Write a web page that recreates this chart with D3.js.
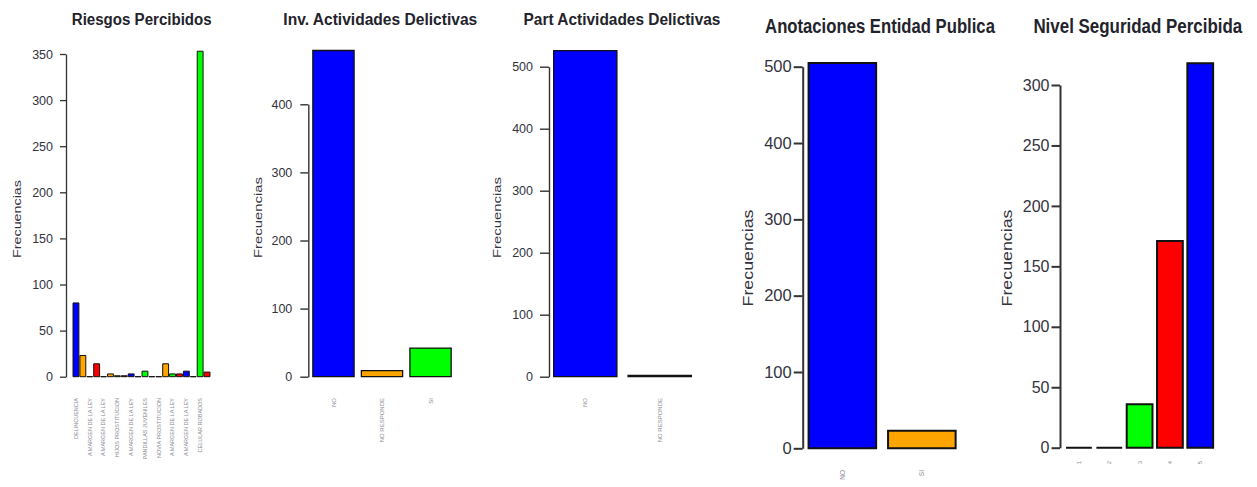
<!DOCTYPE html>
<html>
<head>
<meta charset="utf-8">
<script src="https://cdn.jsdelivr.net/npm/d3@7"></script>
<style>
  body { margin: 0; background: #fff; }
  svg { display: block; }
</style>
</head>
<body>
<svg id="viz"></svg>
<script>
const width = 1257, height = 487;

// colores que R recicla en cada barplot
const palette = ["#0000ff", "#ffa500", "#00ff00", "#ff0000"];

// Riesgos Percibidos (20 categorias, R solo pinta una etiqueta de cada dos)
const riesgosCats = [
  "DELINCUENCIA", "ALCOHOLISMO",
  "A MARGEN DE LA LEY", "DROGADICCION",
  "A MARGEN DE LA LEY ", "EMBARAZO",
  "HIJOS PROSTITUCION", "MALTRATO",
  "A MARGEN DE LA LEY  ", "VIOLENCIA",
  "PANDILLAS JUVENILES", "RECLUTAMIENTO",
  "NOVIA PROSTITUCION", "ROBO",
  "A MARGEN DE LA LEY   ", "SICARIATO",
  "A MARGEN DE LA LEY    ", "VANDALISMO",
  "CELULAR ROBADOS", "OTROS"
];
const riesgosVals = [80, 23, 0, 14, 0, 3, 1, 1, 3, 0, 6, 0, 0, 14, 3, 3, 6, 0, 353, 5];
const riesgosTicks = [0, 50, 100, 150, 200, 250, 300, 350];

// Inv. Actividades Delictivas
const invCats = ["NO", "NO RESPONDE", "SI"];
const invVals = [479, 9, 42];
const invTicks = [0, 100, 200, 300, 400];

// Part Actividades Delictivas
const partCats = ["NO", "NO RESPONDE"];
const partVals = [526, 2];
const partTicks = [0, 100, 200, 300, 400, 500];

// Anotaciones Entidad Publica
const anotCats = ["NO", "SI"];
const anotVals = [505, 23];
const anotTicks = [0, 100, 200, 300, 400, 500];

// Nivel Seguridad Percibida
const nivelCats = ["1", "2", "3", "4", "5"];
const nivelVals = [0, 0, 36, 171, 318];
const nivelTicks = [0, 50, 100, 150, 200, 250, 300];

const panels = [
  { title: "Riesgos Percibidos", cats: riesgosCats, vals: riesgosVals, ticks: riesgosTicks,
    axisX: 66, y0: 376.7, yTop: 54, bars: [72.5, 210.5], labelEvery: 2,
    titleX: 141.7, titleY: 25, titleSize: 17, titleLen: 140,
    ylabX: 20.7, ylabY: 219, ylabSize: 11.5, ylabLen: 78,
    tickSize: 6, tickPad: 7, tickFont: 12.5, xlabY: 398, xlabFont: 5.5, lw: 1.3, bw: 1 },
  { title: "Inv. Actividades Delictivas", cats: invCats, vals: invVals, ticks: invTicks,
    axisX: 308.3, y0: 376.7, yTop: 104.3, bars: [309.2, 454.8], labelEvery: 1,
    titleX: 380.3, titleY: 25, titleSize: 17, titleLen: 194,
    ylabX: 261.7, ylabY: 217.5, ylabSize: 11.5, ylabLen: 81,
    tickSize: 8, tickPad: 8, tickFont: 12.5, xlabY: 398, xlabFont: 6, lw: 1.4, bw: 1.3 },
  { title: "Part Actividades Delictivas", cats: partCats, vals: partVals, ticks: partTicks,
    axisX: 549, y0: 376.7, yTop: 66.7, bars: [548.1, 696.9], labelEvery: 1,
    titleX: 622, titleY: 25, titleSize: 17, titleLen: 197,
    ylabX: 500.7, ylabY: 217.5, ylabSize: 11.5, ylabLen: 81,
    tickSize: 9, tickPad: 7, tickFont: 12.5, xlabY: 398, xlabFont: 6, lw: 1.4, bw: 1.3 },
  { title: "Anotaciones Entidad Publica", cats: anotCats, vals: anotVals, ticks: anotTicks,
    axisX: 802.7, y0: 448.3, yTop: 66.7, bars: [802.6, 961.6], labelEvery: 1,
    titleX: 880, titleY: 33.3, titleSize: 21, titleLen: 230,
    ylabX: 752.7, ylabY: 258, ylabSize: 14, ylabLen: 97,
    tickSize: 9, tickPad: 2, tickFont: 16.5, xlabY: 470, xlabFont: 6.5, lw: 2, bw: 2 },
  { title: "Nivel Seguridad Percibida", cats: nivelCats, vals: nivelVals, ticks: nivelTicks,
    axisX: 1060, y0: 447.7, yTop: 85, bars: [1063.8, 1215.4], labelEvery: 1,
    titleX: 1137.8, titleY: 33.3, titleSize: 21, titleLen: 209,
    ylabX: 1011.7, ylabY: 258, ylabSize: 14, ylabLen: 97,
    tickSize: 8.5, tickPad: 2, tickFont: 16, xlabY: 461, xlabFont: 6, lw: 2, bw: 2 }
];

const svg = d3.select("#viz")
  .attr("width", width)
  .attr("height", height)
  .style("font-family", "Liberation Sans, Arial, sans-serif");

svg.append("rect").attr("width", width).attr("height", height).attr("fill", "#fff");

// texto estrechado a un ancho dado (la imagen original esta comprimida en x)
function squeezed(parent, str, len, size, bold, fill, rotate) {
  const holder = parent.append("g");
  const t = holder.append("text")
    .attr("text-anchor", "middle")
    .attr("fill", fill)
    .style("font-size", size + "px")
    .style("font-weight", bold ? "bold" : "normal")
    .text(str);
  const natural = t.node().getComputedTextLength();
  const sx = natural > 0 ? len / natural : 1;
  t.attr("transform", (rotate ? "rotate(-90) " : "") + "scale(" + sx + ",1)");
  return holder;
}

panels.forEach(function(p) {
  const g = svg.append("g");

  const y = d3.scaleLinear()
    .domain([0, d3.max(p.ticks)])
    .range([p.y0, p.yTop]);

  const x = d3.scaleBand()
    .domain(p.cats)
    .range(p.bars)
    .paddingInner(0.15)
    .paddingOuter(0.075);

  // barras como paths para que las de valor 0 se vean como linea
  g.selectAll("path.bar")
    .data(p.vals)
    .enter().append("path")
    .attr("class", "bar")
    .attr("d", function(d, i) {
      const x0 = x(p.cats[i]), w = x.bandwidth();
      const yb = y(0), yt = y(d);
      return "M" + x0 + "," + yb + "H" + (x0 + w) + "V" + yt + "H" + x0 + "Z";
    })
    .attr("fill", function(d, i) { return palette[i % palette.length]; })
    .attr("stroke", "#111")
    .attr("stroke-width", p.bw);

  // eje y estilo R
  const axis = g.append("g")
    .attr("transform", "translate(" + p.axisX + ",0)")
    .call(d3.axisLeft(y).tickValues(p.ticks).tickSize(p.tickSize).tickSizeOuter(0).tickPadding(p.tickPad));

  axis.select(".domain").attr("stroke", "#333").attr("stroke-width", p.lw);
  axis.selectAll(".tick line").attr("stroke", "#333").attr("stroke-width", p.lw);
  axis.selectAll(".tick text")
    .attr("fill", "#33333d")
    .style("font-size", p.tickFont + "px")
    .style("font-family", "Liberation Sans, Arial, sans-serif");

  // etiquetas x verticales (las = 2)
  g.selectAll("text.xlab")
    .data(p.cats.filter(function(c, i) { return i % p.labelEvery === 0; }))
    .enter().append("text")
    .attr("class", "xlab")
    .attr("transform", function(c) {
      return "translate(" + (x(c) + x.bandwidth() / 2) + "," + p.xlabY + ") rotate(-90)";
    })
    .attr("text-anchor", "end")
    .attr("dy", "0.35em")
    .attr("fill", "#8a8a95")
    .style("font-size", p.xlabFont + "px")
    .text(function(c) { return c.trim(); });

  // titulo
  squeezed(g, p.title, p.titleLen, p.titleSize, true, "#23232b", false)
    .attr("transform", "translate(" + p.titleX + "," + p.titleY + ")");

  squeezed(g, "Frecuencias", p.ylabLen, p.ylabSize, false, "#33333d", true)
    .attr("transform", "translate(" + p.ylabX + "," + p.ylabY + ")");
});
</script>
</body>
</html>
